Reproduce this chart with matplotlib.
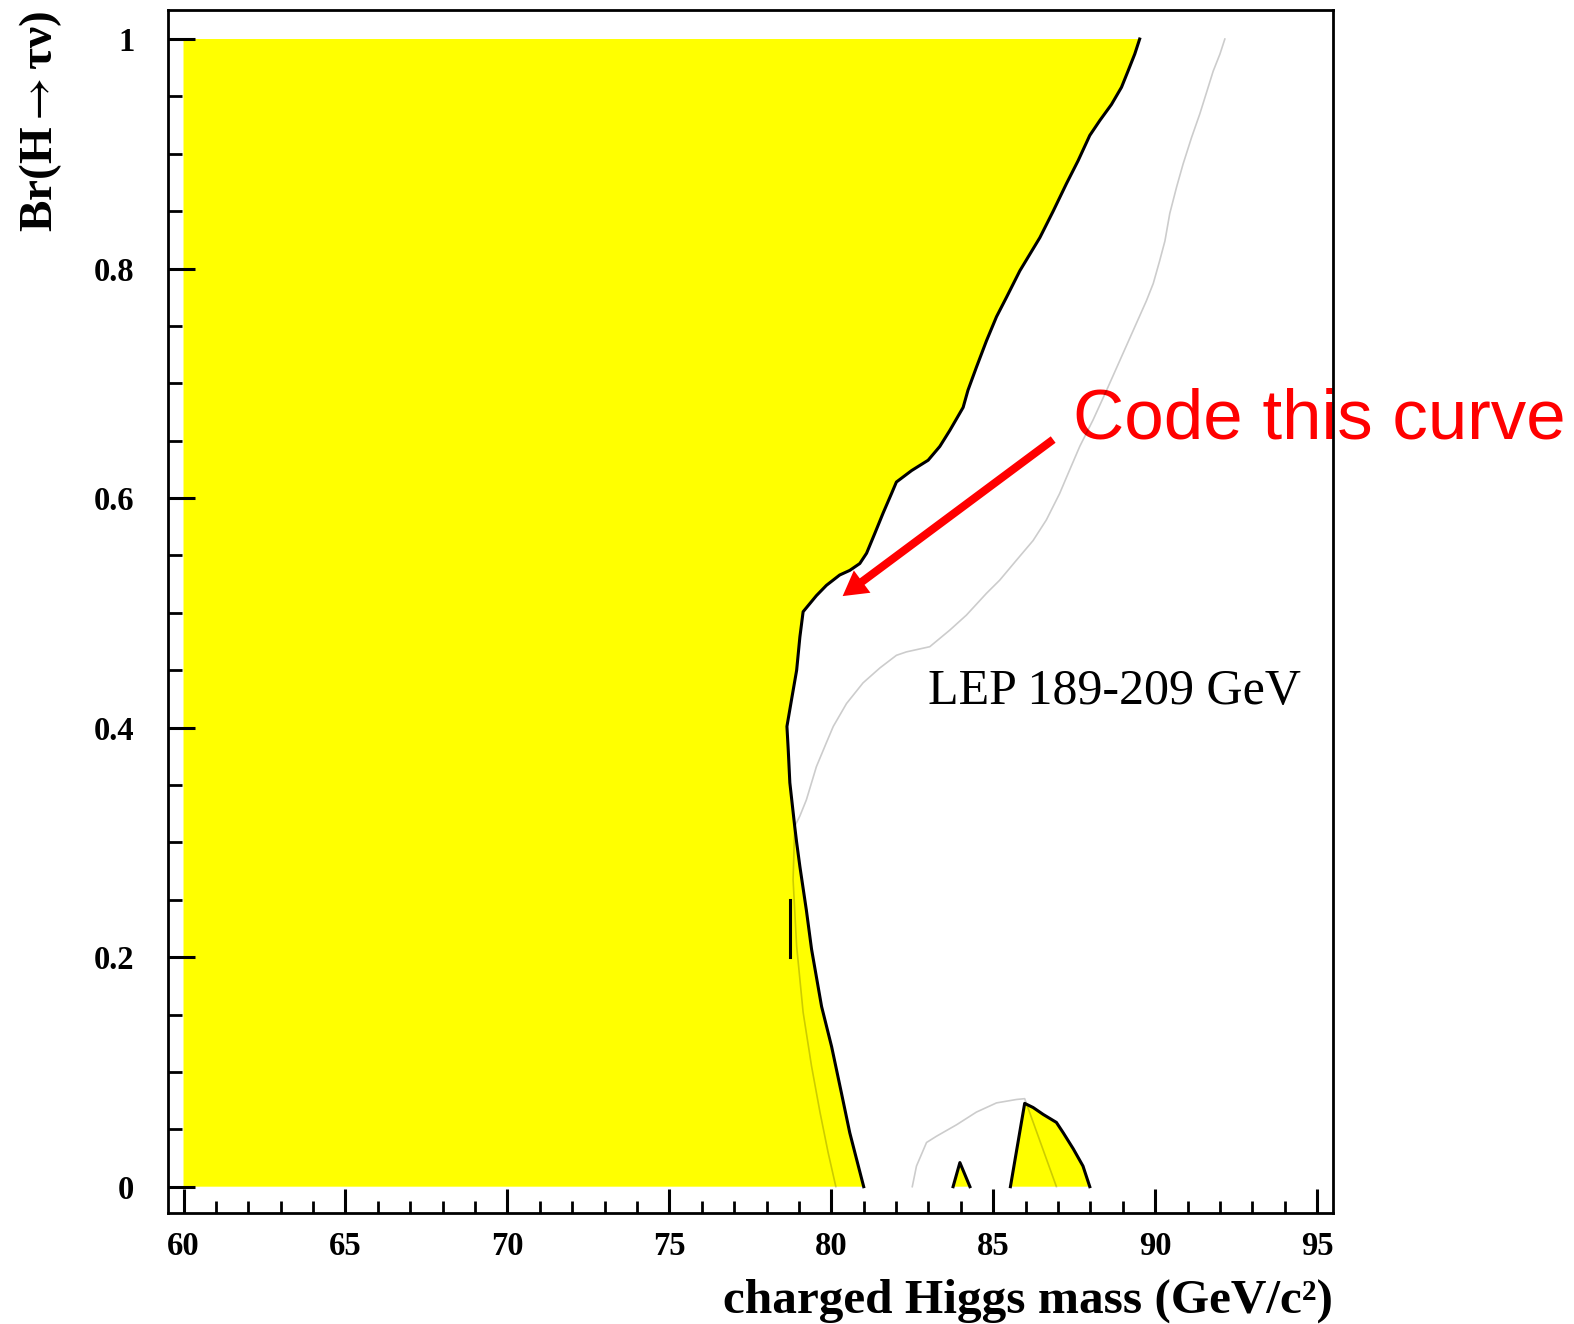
import matplotlib
matplotlib.use("Agg")
import matplotlib.pyplot as plt
from matplotlib.ticker import FixedLocator, MultipleLocator

# Observed exclusion boundary (charged Higgs mass vs. Br(H -> tau nu)), top to bottom
obs_mass = [89.52, 89.37, 89.16, 88.96, 88.65, 88.29, 87.98, 87.62, 87.26, 86.85,
            86.44, 85.82, 85.41, 85.10, 84.79, 84.48, 84.22, 84.07, 83.66, 83.35,
            82.99, 82.48, 82.01, 81.86, 81.60, 81.34, 81.09, 80.88, 80.57, 80.26,
            79.85, 79.54, 79.13, 79.03, 78.93, 78.77, 78.63, 78.67, 78.72, 78.87,
            78.93, 79.03, 79.23, 79.39, 79.70, 80.01, 80.31, 80.57, 80.78, 81.00]
obs_br = [1.000, 0.987, 0.972, 0.958, 0.943, 0.929, 0.916, 0.894, 0.874, 0.850,
          0.827, 0.798, 0.775, 0.758, 0.737, 0.714, 0.694, 0.679, 0.659, 0.645,
          0.633, 0.624, 0.614, 0.604, 0.587, 0.569, 0.552, 0.543, 0.537, 0.533,
          0.524, 0.515, 0.501, 0.479, 0.450, 0.424, 0.401, 0.381, 0.352, 0.314,
          0.300, 0.279, 0.241, 0.207, 0.157, 0.122, 0.082, 0.047, 0.024, 0.000]

# Small excluded islands near Br = 0
island1_mass = [83.76, 83.97, 84.28]
island1_br = [0.000, 0.021, 0.000]
island2_mass = [85.53, 85.97, 86.23, 86.54, 86.95, 87.16, 87.47, 87.77, 87.98]
island2_br = [0.000, 0.0726, 0.069, 0.063, 0.056, 0.047, 0.033, 0.018, 0.000]

# Short vertical boundary segment
seg_mass = [78.72, 78.72]
seg_br = [0.20, 0.25]

# Expected exclusion boundary
exp_mass = [92.15, 92.00, 91.79, 91.58, 91.38, 91.12, 90.86, 90.66, 90.45, 90.30,
            90.14, 89.94, 89.73, 89.32, 88.91, 88.50, 88.08, 87.67, 87.26, 87.05,
            86.64, 86.23, 85.72, 85.20, 84.79, 84.17, 83.66, 83.04, 82.32, 82.01,
            81.50, 80.98, 80.47, 80.06, 79.85, 79.54, 79.23, 79.03, 78.87, 78.82,
            78.93, 79.13, 79.39, 79.65, 79.90, 80.14]
exp_br = [1.000, 0.987, 0.972, 0.953, 0.935, 0.914, 0.891, 0.871, 0.848, 0.824,
          0.807, 0.787, 0.772, 0.746, 0.720, 0.694, 0.668, 0.645, 0.618, 0.604,
          0.581, 0.563, 0.546, 0.5285, 0.517, 0.498, 0.485, 0.4705, 0.466, 0.463,
          0.452, 0.439, 0.421, 0.401, 0.387, 0.366, 0.337, 0.323, 0.314, 0.2675,
          0.2095, 0.152, 0.105, 0.065, 0.030, 0.000]
exp2_mass = [82.50, 82.63, 82.94, 83.25, 83.87, 84.48, 85.10, 85.72, 85.97, 86.95]
exp2_br = [0.000, 0.018, 0.0385, 0.044, 0.054, 0.065, 0.073, 0.076, 0.0767, 0.000]

x_ticks = [60, 65, 70, 75, 80, 85, 90, 95]
x_ticklabels = ["60", "65", "70", "75", "80", "85", "90", "95"]
y_ticks = [0, 0.2, 0.4, 0.6, 0.8, 1.0]
y_ticklabels = ["0", "0.2", "0.4", "0.6", "0.8", "1"]

SERIF = ["Liberation Serif", "DejaVu Serif"]
plt.rcParams["mathtext.fontset"] = "stix"

fig = plt.figure(figsize=(15.74, 13.24), dpi=100)
ax = fig.add_axes([0.1065, 0.0836, 0.7404, 0.9092])
ax.set_xlim(59.51, 95.49)
ax.set_ylim(-0.0232, 1.0257)

# Excluded region
ax.fill([60, 60] + obs_mass, [0, 1] + obs_br, color="#ffff00", lw=0, zorder=1)
ax.fill(island1_mass, island1_br, color="#ffff00", lw=0, zorder=1)
ax.fill(island2_mass, island2_br, color="#ffff00", lw=0, zorder=1)

# Expected limit (thin grey, tinted over the yellow)
ax.plot(exp_mass, exp_br, color="black", alpha=0.2, lw=1.2, zorder=2)
ax.plot(exp2_mass, exp2_br, color="black", alpha=0.2, lw=1.2, zorder=2)

# Observed limit boundary
ax.plot(obs_mass, obs_br, color="black", lw=2.2, zorder=2.2)
ax.plot(island1_mass, island1_br, color="black", lw=2.2, zorder=2.2)
ax.plot(island2_mass, island2_br, color="black", lw=2.2, zorder=2.2)
ax.plot(seg_mass, seg_br, color="black", lw=2.2, zorder=2.2)

ax.text(82.99, 0.4207, "LEP 189-209 GeV", fontsize=36, family=SERIF,
        ha="left", va="baseline", zorder=3)

# Callout
ax.text(87.45, 0.652, "Code this curve", fontsize=51, color="#ff0000",
        family=["Liberation Sans", "DejaVu Sans"], ha="left", va="baseline",
        clip_on=False, zorder=1.5)
ax.annotate("", xy=(80.35, 0.5146), xytext=(86.85, 0.651),
            xycoords="data", textcoords="data", annotation_clip=False,
            arrowprops=dict(width=5.8, headwidth=20, headlength=17.5,
                            color="#ff0000", lw=0),
            zorder=1.6)

# Frame and ticks
for sp in ax.spines.values():
    sp.set_linewidth(2.0)
    sp.set_color("black")

ax.xaxis.set_major_locator(FixedLocator(x_ticks))
ax.xaxis.set_minor_locator(MultipleLocator(1))
ax.yaxis.set_major_locator(FixedLocator(y_ticks))
ax.yaxis.set_minor_locator(MultipleLocator(0.05))
ax.set_xticklabels(x_ticklabels)
ax.set_yticklabels(y_ticklabels)

ax.tick_params(axis="x", which="major", direction="in", length=17.3, width=2.2,
               pad=13, top=False, bottom=True)
ax.tick_params(axis="x", which="minor", direction="in", length=8.4, width=2.0,
               top=False, bottom=True)
ax.tick_params(axis="y", which="major", direction="in", length=19.5, width=2.2,
               pad=24, left=True, right=False)
ax.tick_params(axis="y", which="minor", direction="in", length=10, width=2.0,
               left=True, right=False)

for lab in ax.get_xticklabels() + ax.get_yticklabels():
    lab.set_family(SERIF)
    lab.set_fontsize(23.5)
    lab.set_fontweight("bold")

# Axis titles
fig.text(1333 / 1574, 1 - 1313 / 1324, "charged Higgs mass (GeV/c²)",
         fontsize=35.5, fontweight="bold", family=SERIF,
         ha="right", va="baseline")
fig.text(40.5 / 1574, 1 - 11 / 1324, r"Br(H$\rightarrow$τν)",
         fontsize=34, fontweight="bold", family=SERIF,
         rotation=90, ha="center", va="top")

fig.savefig("out.png", dpi=100)
